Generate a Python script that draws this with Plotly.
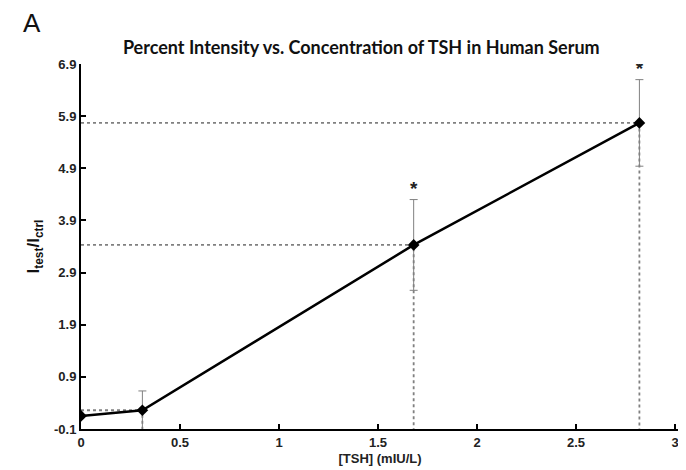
import plotly.graph_objects as go

tsh = [0, 0.31, 1.68, 2.82]
ratio = [0.15, 0.26, 3.43, 5.77]
err = [0, 0.37, 0.87, 0.83]
significant = [False, False, True, True]
ytick_vals = [-0.1, 0.9, 1.9, 2.9, 3.9, 4.9, 5.9, 6.9]
xtick_vals = [0, 0.5, 1, 1.5, 2, 2.5, 3]
xtick_text = ["0", "0.5", "1", "1.5", "2", "2.5", "3"]

ymin = ytick_vals[0]
fig = go.Figure()

# dotted reference lines
for i in range(1, len(tsh)):
    fig.add_trace(go.Scatter(
        x=[0, tsh[i], tsh[i]], y=[ratio[i], ratio[i], ymin],
        mode="lines", line=dict(color="#808080", width=1.8, dash="dot"),
        hoverinfo="skip", showlegend=False))

fig.add_trace(go.Scatter(
    x=tsh, y=ratio, mode="lines+markers",
    line=dict(color="black", width=2.5),
    marker=dict(symbol="diamond", size=9, color="black"),
    error_y=dict(type="data", array=err, visible=True, color="#808080",
                 thickness=1, width=4),
    showlegend=False))

sx = [t for t, s in zip(tsh, significant) if s]
sy = [r + e for r, e, s in zip(ratio, err, significant) if s]
fig.add_trace(go.Scatter(
    x=sx, y=sy, mode="text", text=["<b>*</b>"] * len(sx), textposition="top center",
    textfont=dict(family="Arial", size=19, color="#222222"),
    showlegend=False, hoverinfo="skip"))

fig.update_layout(
    width=686, height=470,
    margin=dict(l=73, r=15, t=56, b=49),
    paper_bgcolor="white", plot_bgcolor="white",
    title=dict(text="<b>Percent Intensity vs. Concentration of TSH in Human Serum</b>",
               x=0.515, xanchor="center", y=0.915, yanchor="middle",
               font=dict(family="Lato", size=18, color="#111111")),
    xaxis=dict(range=[0, 3.02], tickvals=xtick_vals, ticktext=xtick_text,
               ticks="inside", ticklen=5, tickcolor="black", tickwidth=1.5,
               showline=True, linecolor="black", linewidth=2,
               showgrid=False, zeroline=False,
               tickfont=dict(family="Arial", size=13, color="#222222", weight="bold"),
               title=dict(text="<b>[TSH] (mIU/L)</b>", standoff=5,
                          font=dict(family="Arial", size=13, color="#222222"))),
    yaxis=dict(range=[ymin, 6.9], tickvals=ytick_vals,
               ticktext=[f"{v:.1f}" for v in ytick_vals],
               ticks="inside", ticklen=5, tickcolor="black", tickwidth=1.5,
               showline=True, linecolor="black", linewidth=2,
               showgrid=False, zeroline=False,
               tickfont=dict(family="Arial", size=13, color="#222222", weight="bold"),
               title=dict(text="<b>I<sub>test</sub>/I<sub>ctrl</sub></b>", standoff=10,
                          font=dict(family="Arial", size=17, color="#111111"))),
    annotations=[dict(text="A", x=0, y=1, xref="paper", yref="paper",
                      xshift=-60, yshift=41, showarrow=False,
                      xanchor="left", yanchor="middle",
                      font=dict(family="Arial", size=26, color="#111111"))],
)

fig.write_html("out.html")
